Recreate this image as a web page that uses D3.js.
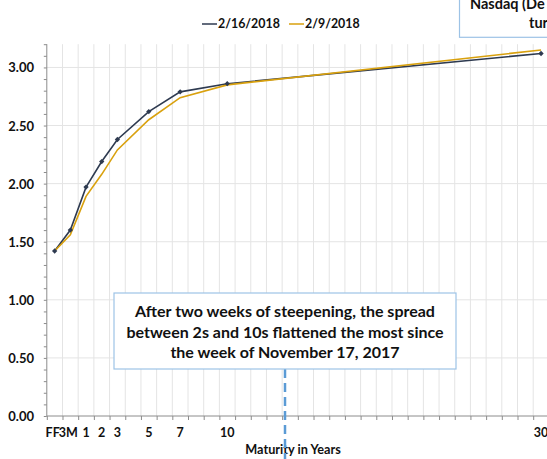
<!DOCTYPE html>
<html>
<head>
<meta charset="utf-8">
<script src="https://cdn.jsdelivr.net/npm/d3@7"></script>
<style>
  body { margin: 0; background: #fff; }
  svg { display: block; font-family: Lato, "Open Sans", sans-serif; font-weight: bold; }
</style>
</head>
<body>
<div class="chart"></div>
<script>
var width = 547;
var height = 459;

// maturities in years (FF and 3M put at -1 and 0 on the axis)
var maturities = [-1, 0, 1, 2, 3, 5, 7, 10, 30];
var tickLabels = ["FF", "3M", "1", "2", "3", "5", "7", "10", "30"];
var yield0216 = [1.42, 1.60, 1.97, 2.19, 2.38, 2.62, 2.79, 2.86, 3.12];
var yield0209 = [1.42, 1.56, 1.89, 2.08, 2.29, 2.55, 2.74, 2.85, 3.15];
var yTicks = [0, 0.5, 1, 1.5, 2, 2.5, 3];
var seriesNames = ["2/16/2018", "2/9/2018"];
var noteLines = [
  "After two weeks of steepening, the spread",
  "between 2s and 10s flattened the most since",
  "the week of November 17, 2017"
];

var darkColor = "#2e3a50";
var goldColor = "#d9a10e";
var gridColor = "#e4e4e4";
var axisColor = "#8c8c8c";

var xScale = d3.scaleLinear()
    .domain([-1.5, 31.5])
    .range([46.8, 46.8 + 33 * 15.69]);

var yScale = d3.scaleLinear()
    .domain([0, 3.2])
    .range([416, 44.2]);

var svg = d3.select(".chart").append("svg")
    .attr("width", width)
    .attr("height", height);

/* grid */
var grid = svg.append("g").attr("class", "grid");
grid.selectAll(".vgrid")
    .data(d3.range(-0.5, 31.5, 1)).enter()
    .append("line")
    .attr("x1", d => xScale(d)).attr("x2", d => xScale(d))
    .attr("y1", yScale(3.2)).attr("y2", yScale(0))
    .attr("stroke", gridColor).attr("stroke-width", 1);
grid.selectAll(".hgrid")
    .data(yTicks.slice(1)).enter()
    .append("line")
    .attr("x1", xScale(-1.5)).attr("x2", width)
    .attr("y1", d => yScale(d)).attr("y2", d => yScale(d))
    .attr("stroke", gridColor).attr("stroke-width", 1);

/* axes */
var yAxis = d3.axisLeft(yScale)
    .tickValues(d3.range(0, 3.25, 0.1))
    .tickSize(3)
    .tickFormat("");
svg.append("g")
    .attr("transform", `translate(${xScale(-1.5)},0)`)
    .call(yAxis)
    .call(g => g.select(".domain").attr("stroke", axisColor).attr("d", `M0,${yScale(3.2)}V${yScale(0)}`))
    .call(g => g.selectAll(".tick line").attr("stroke", axisColor));

svg.append("g")
    .selectAll("text")
    .data(yTicks).enter()
    .append("text")
    .attr("x", 34)
    .attr("y", d => yScale(d) + 5)
    .attr("text-anchor", "end")
    .attr("font-size", 13)
    .attr("fill", "#111")
    .text(d => d3.format(".2f")(d));

var xAxis = d3.axisBottom(xScale)
    .tickValues(d3.range(-1.5, 31.5, 1))
    .tickSize(4)
    .tickFormat("");
svg.append("g")
    .attr("transform", `translate(0,${yScale(0)})`)
    .call(xAxis)
    .call(g => g.select(".domain").attr("stroke", axisColor).attr("d", `M${xScale(-1.5)},0H${width}`))
    .call(g => g.selectAll(".tick line").attr("stroke", axisColor));

svg.append("g")
    .selectAll("text")
    .data(maturities).enter()
    .append("text")
    .attr("x", (d, i) => xScale(d) + (i < 2 ? -2 : 0))
    .attr("y", 437)
    .attr("text-anchor", "middle")
    .attr("font-size", 12.5)
    .attr("fill", "#111")
    .text((d, i) => tickLabels[i]);

svg.append("text")
    .attr("x", 293)
    .attr("y", 454)
    .attr("text-anchor", "middle")
    .attr("font-size", 12.7)
    .attr("fill", "#111")
    .text("Maturity in Years");

/* lines */
var line = d3.line()
    .x((d, i) => xScale(maturities[i]))
    .y(d => yScale(d));

svg.append("path")
    .attr("d", line(yield0216))
    .attr("fill", "none")
    .attr("stroke", darkColor)
    .attr("stroke-width", 1.6);

svg.append("path")
    .attr("d", line(yield0209))
    .attr("fill", "none")
    .attr("stroke", goldColor)
    .attr("stroke-width", 1.6);

svg.append("g")
    .selectAll("path")
    .data(yield0216).enter()
    .append("path")
    .attr("transform", (d, i) => `translate(${xScale(maturities[i])},${yScale(d)})`)
    .attr("d", d3.symbol(d3.symbolDiamond2, 18))
    .attr("fill", darkColor);

/* legend */
var legend = svg.append("g").attr("transform", "translate(202,28)");
var legendX = [0, 87];
[darkColor, goldColor].forEach(function(c, i) {
    legend.append("line")
        .attr("x1", legendX[i]).attr("x2", legendX[i] + 15)
        .attr("y1", -4).attr("y2", -4)
        .attr("stroke", c).attr("stroke-width", 1.5);
    legend.append("text")
        .attr("x", legendX[i] + 16)
        .attr("y", 0)
        .attr("font-size", 12.4)
        .attr("fill", "#111")
        .text(seriesNames[i]);
});

/* top-right box, cut by the picture edge as in the source */
svg.append("rect")
    .attr("x", 459.5).attr("y", -20)
    .attr("width", 160).attr("height", 57.3)
    .attr("fill", "#fff")
    .attr("stroke", "#9dc3e6").attr("stroke-width", 1.2);
svg.append("text")
    .attr("x", 470).attr("y", 9)
    .attr("font-size", 14.5).attr("fill", "#111")
    .text("Nasdaq (De");
svg.append("text")
    .attr("x", 529).attr("y", 28)
    .attr("font-size", 14.5).attr("fill", "#111")
    .text("tur");

/* annotation */
svg.append("line")
    .attr("x1", 285).attr("x2", 285)
    .attr("y1", 369).attr("y2", height)
    .attr("stroke", "#5b9bd5")
    .attr("stroke-width", 2.5)
    .attr("stroke-dasharray", "9,5");

svg.append("rect")
    .attr("x", 114).attr("y", 293)
    .attr("width", 342).attr("height", 76)
    .attr("fill", "#fff")
    .attr("stroke", "#9dc3e6").attr("stroke-width", 1.2);

svg.append("g")
    .selectAll("text")
    .data(noteLines).enter()
    .append("text")
    .attr("x", 285)
    .attr("y", (d, i) => 317 + i * 20.5)
    .attr("text-anchor", "middle")
    .attr("font-size", 16)
    .attr("fill", "#111")
    .text(d => d);
</script>
</body>
</html>
